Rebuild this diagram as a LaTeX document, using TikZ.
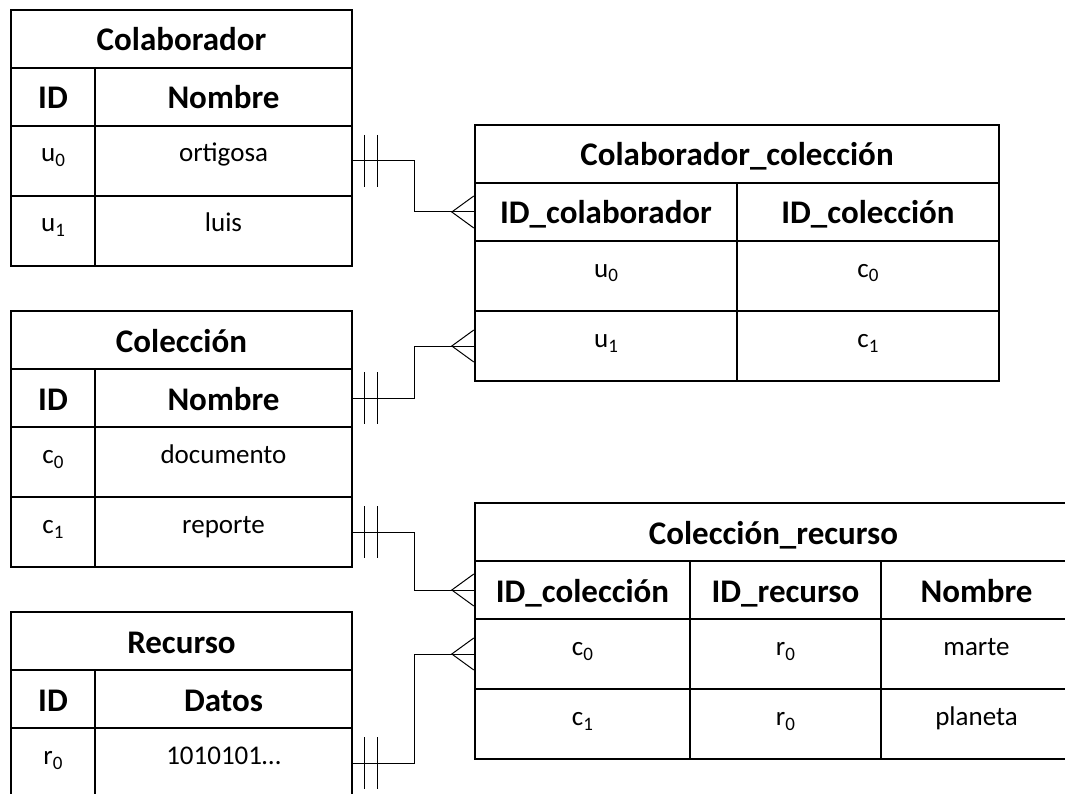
\documentclass[tikz,border=0pt]{standalone}
\usepackage{fontspec}
\setmainfont{Carlito}
\usetikzlibrary{positioning}
\newcommand{\subi}[1]{\raisebox{-5pt}{\fontsize{19}{22}\selectfont#1}}

\begin{document}
\begin{tikzpicture}[x=1pt,y=-1pt,
  cell/.style={draw, line width=2.4pt, inner sep=0pt},
  tit/.style={cell, font=\fontsize{33}{40}\selectfont\bfseries, minimum height=58pt, text height=41pt, text depth=17pt},
  dat/.style={cell, font=\fontsize{27}{32}\selectfont, minimum height=70pt, text height=36pt, text depth=34pt},
  rel/.style={black, line width=1pt}]
\useasboundingbox (0,0) rectangle (1065,794);
\node [tit, minimum width=341pt] (colab) at (181.5,39) {Colaborador};
\node [tit, minimum width=84pt] (colab-id) at (53,97) {ID};
\node [tit, minimum width=257pt] (colab-nom) at (223.5,97) {Nombre};
\node [dat, minimum width=84pt] (colab-id0) at (53,161) {u\subi{0}};
\node [dat, minimum width=257pt] (colab-nom0) at (223.5,161) {ortigosa};
\node [dat, minimum width=84pt] (colab-id1) at (53,231) {u\subi{1}};
\node [dat, minimum width=257pt] (colab-nom1) at (223.5,231) {luis};
\node [tit, minimum width=341pt] (col) at (181.5,340) {Colección};
\node [tit, minimum width=84pt] (col-id) at (53,398) {ID};
\node [tit, minimum width=257pt] (col-nom) at (223.5,398) {Nombre};
\node [dat, minimum width=84pt] (col-id0) at (53,462) {c\subi{0}};
\node [dat, minimum width=257pt] (col-nom0) at (223.5,462) {documento};
\node [dat, minimum width=84pt] (col-id1) at (53,532) {c\subi{1}};
\node [dat, minimum width=257pt] (col-nom1) at (223.5,532) {reporte};
\node [tit, minimum width=341pt] (rec) at (181.5,641) {Recurso};
\node [tit, minimum width=84pt] (rec-id) at (53,699) {ID};
\node [tit, minimum width=257pt] (rec-dat) at (223.5,699) {Datos};
\node [dat, minimum width=84pt] (rec-id0) at (53,763) {r\subi{0}};
\node [dat, minimum width=257pt] (rec-dat0) at (223.5,763) {1010101…};
\node [tit, minimum width=524pt] (cc) at (737,154) {Colaborador\_colección};
\node [tit, minimum width=262pt] (cc-u) at (606,212) {ID\_colaborador};
\node [tit, minimum width=262pt] (cc-c) at (868,212) {ID\_colección};
\node [dat, minimum width=262pt] (cc-u0) at (606,276) {u\subi{0}};
\node [dat, minimum width=262pt] (cc-c0) at (868,276) {c\subi{0}};
\node [dat, minimum width=262pt] (cc-u1) at (606,346) {u\subi{1}};
\node [dat, minimum width=262pt] (cc-c1) at (868,346) {c\subi{1}};
\node [tit, minimum width=597pt] (cr) at (773.5,532) {Colección\_recurso};
\node [tit, minimum width=215pt] (cr-c) at (582.5,590) {ID\_colección};
\node [tit, minimum width=191pt] (cr-r) at (785.5,590) {ID\_recurso};
\node [tit, minimum width=191pt] (cr-n) at (976.5,590) {Nombre};
\node [dat, minimum width=215pt] (cr-c0) at (582.5,654) {c\subi{0}};
\node [dat, minimum width=191pt] (cr-r0) at (785.5,654) {r\subi{0}};
\node [dat, minimum width=191pt] (cr-n0) at (976.5,654) {marte};
\node [dat, minimum width=215pt] (cr-c1) at (582.5,724) {c\subi{1}};
\node [dat, minimum width=191pt] (cr-r1) at (785.5,724) {r\subi{0}};
\node [dat, minimum width=191pt] (cr-n1) at (976.5,724) {planeta};
\draw [rel] (colab-nom0.east) -- ++(61,0) |- (cc-u.west);
\draw [rel] (colab-nom0.east) ++(11,-26) -- ++(0,52) ++(13,-52) -- ++(0,52);
\draw [rel] (cc-u.west) ++(0,-16) -- ++(-22,16) -- ++(22,16);
\draw [rel] (col-nom.east) -- ++(61,0) |- (cc-u1.west);
\draw [rel] (col-nom.east) ++(11,-26) -- ++(0,52) ++(13,-52) -- ++(0,52);
\draw [rel] (cc-u1.west) ++(0,-16) -- ++(-22,16) -- ++(22,16);
\draw [rel] (col-nom1.east) -- ++(61,0) |- (cr-c.west);
\draw [rel] (col-nom1.east) ++(11,-26) -- ++(0,52) ++(13,-52) -- ++(0,52);
\draw [rel] (cr-c.west) ++(0,-16) -- ++(-22,16) -- ++(22,16);
\draw [rel] (rec-dat0.east) -- ++(61,0) |- (cr-c0.west);
\draw [rel] (rec-dat0.east) ++(11,-26) -- ++(0,52) ++(13,-52) -- ++(0,52);
\draw [rel] (cr-c0.west) ++(0,-16) -- ++(-22,16) -- ++(22,16);
\end{tikzpicture}
\end{document}
